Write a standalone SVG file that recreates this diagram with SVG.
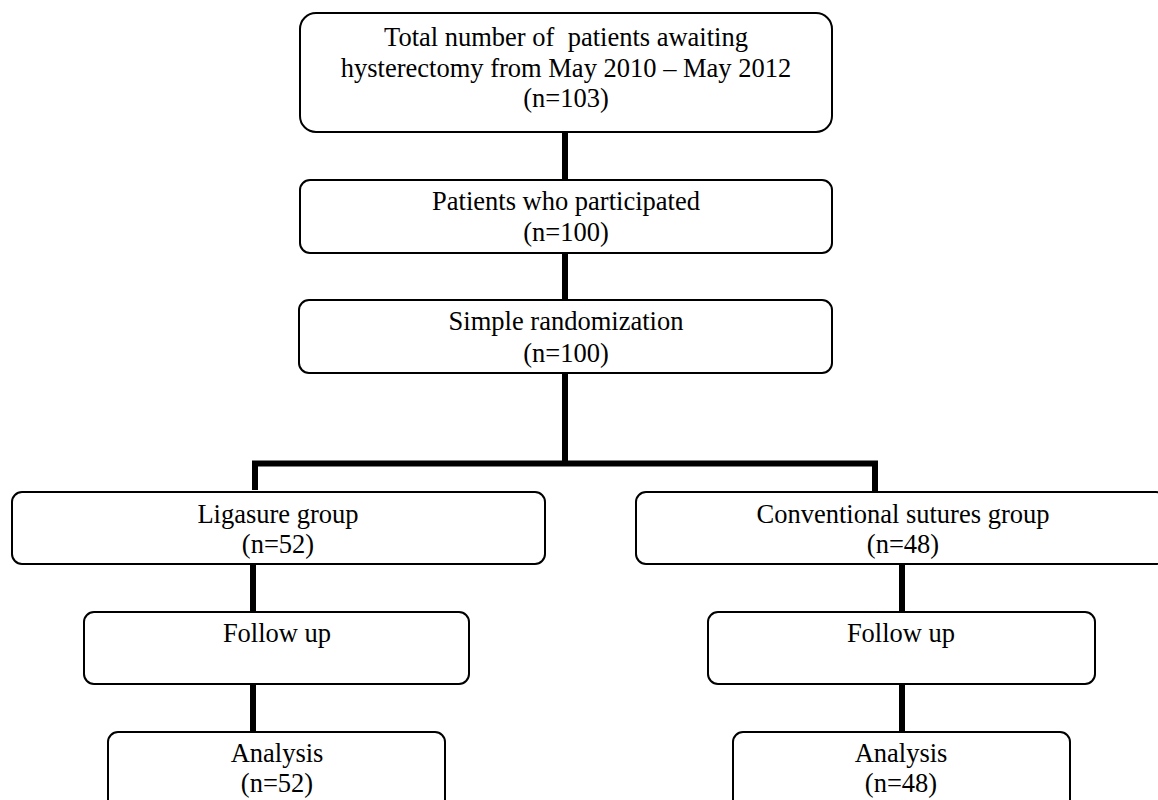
<svg xmlns="http://www.w3.org/2000/svg" width="1158" height="800" viewBox="0 0 1158 800">
<style>
.box{fill:#fff;stroke:#000;stroke-width:2}
.t{font-family:"Liberation Serif","Times New Roman",serif;font-size:26.5px;fill:#000;text-anchor:middle;white-space:pre}
.c{stroke:#000;stroke-width:6;fill:none}
</style>
<rect width="1158" height="800" fill="#fff"/>
<g id="connectors">
<line class="c" x1="565" y1="132" x2="565" y2="180"/>
<line class="c" x1="565" y1="253" x2="565" y2="300"/>
<polyline class="c" points="255,490 255,463.5 565,463.5 565,373 565,463.5 875,463.5 875,492"/>
<line class="c" x1="253" y1="564" x2="253" y2="612"/>
<line class="c" x1="253" y1="684" x2="253" y2="732"/>
<line class="c" x1="902" y1="564" x2="902" y2="612"/>
<line class="c" x1="902" y1="684" x2="902" y2="732"/>
</g>
<g id="n1"><rect class="box" x="300" y="13" width="532" height="119" rx="16"/>
<text class="t" x="566" y="46">Total number of  patients awaiting</text>
<text class="t" x="566" y="77">hysterectomy from May 2010 – May 2012</text>
<text class="t" x="566" y="107">(n=103)</text></g>
<g id="n2"><rect class="box" x="300" y="180" width="532" height="73" rx="10"/>
<text class="t" x="566" y="210">Patients who participated</text>
<text class="t" x="566" y="241">(n=100)</text></g>
<g id="n3"><rect class="box" x="299" y="300" width="533" height="73" rx="10"/>
<text class="t" x="566" y="330">Simple randomization</text>
<text class="t" x="566" y="362">(n=100)</text></g>
<g id="n4"><rect class="box" x="12" y="492" width="533" height="72" rx="10"/>
<text class="t" x="278" y="523">Ligasure group</text>
<text class="t" x="278" y="553">(n=52)</text></g>
<g id="n5"><rect class="box" x="636" y="492" width="530" height="72" rx="10"/>
<text class="t" x="903" y="523">Conventional sutures group</text>
<text class="t" x="903" y="553">(n=48)</text></g>
<g id="n6"><rect class="box" x="84" y="612" width="385" height="72" rx="10"/>
<text class="t" x="277" y="642">Follow up</text></g>
<g id="n7"><rect class="box" x="708" y="612" width="387" height="72" rx="10"/>
<text class="t" x="901" y="642">Follow up</text></g>
<g id="n8"><rect class="box" x="108" y="732" width="337" height="78" rx="10"/>
<text class="t" x="277" y="762">Analysis</text>
<text class="t" x="277" y="792">(n=52)</text></g>
<g id="n9"><rect class="box" x="733" y="732" width="337" height="78" rx="10"/>
<text class="t" x="901" y="762">Analysis</text>
<text class="t" x="901" y="792">(n=48)</text></g>
</svg>
